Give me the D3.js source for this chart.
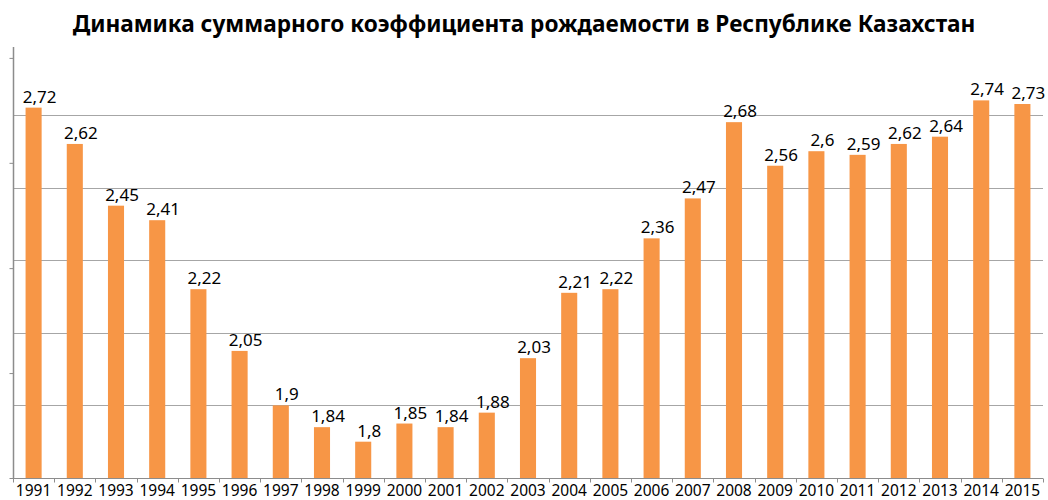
<!DOCTYPE html>
<html>
<head>
<meta charset="utf-8">
<script src="https://cdn.jsdelivr.net/npm/d3@7"></script>
<style>
  body { margin: 0; background: #fff; }
  svg { display: block; }
</style>
</head>
<body>
<svg id="chart" width="1048" height="500"></svg>
<script>
// Data
const years = ["1991", "1992", "1993", "1994", "1995", "1996", "1997", "1998", "1999", "2000",
  "2001", "2002", "2003", "2004", "2005", "2006", "2007", "2008", "2009", "2010",
  "2011", "2012", "2013", "2014", "2015"];
const tfr = [2.72, 2.62, 2.45, 2.41, 2.22, 2.05, 1.9, 1.84, 1.8, 1.85,
  1.84, 1.88, 2.03, 2.21, 2.22, 2.36, 2.47, 2.68, 2.56, 2.6,
  2.59, 2.62, 2.64, 2.74, 2.73];
const gridValues = [1.9, 2.1, 2.3, 2.5, 2.7];
const yTickValues = [1.7, 1.989, 2.278, 2.568, 2.857];
const title = "Динамика суммарного коэффициента рождаемости в Республике Казахстан";

const margin = { top: 47, right: 5, bottom: 22, left: 13 };
const width = 1048, height = 500;

const $svg = d3.select("#chart");

const x = d3.scaleBand()
  .domain(years)
  .range([margin.left, width - margin.right])
  .paddingInner(0.61)
  .paddingOuter(0.305);

const y = d3.scaleLinear()
  .domain([1.7, 2.887])
  .range([height - margin.bottom, margin.top]);

const fmt = v => String(v).replace(".", ",");

// Grid
$svg.append("g")
  .selectAll("line")
  .data(gridValues)
  .join("line")
    .attr("x1", margin.left)
    .attr("x2", width - margin.right)
    .attr("y1", d => Math.round(y(d)) + 0.5)
    .attr("y2", d => Math.round(y(d)) + 0.5)
    .attr("stroke", "#a6a6a6")
    .attr("stroke-width", 1);

// Bars
$svg.append("g")
  .selectAll("rect")
  .data(tfr)
  .join("rect")
    .attr("x", (d, i) => x(years[i]))
    .attr("width", x.bandwidth())
    .attr("y", d => y(d))
    .attr("height", d => y(1.7) - y(d))
    .attr("fill", "#f79646");

// Y axis (no labels)
const yAxis = d3.axisLeft(y)
  .tickValues(yTickValues)
  .tickSize(4)
  .tickFormat("");
const $yAxis = $svg.append("g")
  .attr("transform", `translate(${margin.left + 0.5},0)`)
  .call(yAxis);
$yAxis.select(".domain").remove();
$yAxis.selectAll("line").attr("stroke", "#8c8c8c");
$yAxis.append("line")
  .attr("y1", margin.top)
  .attr("y2", height - margin.bottom)
  .attr("stroke", "#8c8c8c")
  .attr("stroke-width", 1.5);

// X axis
const $xAxis = $svg.append("g")
  .attr("transform", `translate(0,${height - margin.bottom + 0.5})`);
$xAxis.append("line")
  .attr("x1", margin.left)
  .attr("x2", width - margin.right)
  .attr("stroke", "#8c8c8c");
const step = x.step();
$xAxis.selectAll(".tick")
  .data(d3.range(years.length + 1))
  .join("line")
    .attr("class", "tick")
    .attr("x1", i => Math.round(margin.left + i * step) + 0.5)
    .attr("x2", i => Math.round(margin.left + i * step) + 0.5)
    .attr("y1", 0)
    .attr("y2", 4)
    .attr("stroke", "#8c8c8c");
$xAxis.selectAll("text")
  .data(years)
  .join("text")
    .attr("x", d => x(d) + x.bandwidth() / 2)
    .attr("y", 17)
    .attr("text-anchor", "middle")
    .attr("font-family", "Noto Sans")
    .attr("font-size", 15.5)
    .attr("fill", "#000")
    .text(d => d);

// Data labels
$svg.append("g")
  .selectAll("text")
  .data(tfr)
  .join("text")
    .attr("x", (d, i) => x(years[i]) + x.bandwidth() / 2 + 6)
    .attr("y", d => y(d) - 5)
    .attr("text-anchor", "middle")
    .attr("font-family", "Noto Sans")
    .attr("font-size", 17)
    .attr("fill", "#000")
    .text(d => fmt(d));

// Title
const $title = $svg.append("text")
  .attr("x", 524)
  .attr("y", 32)
  .attr("text-anchor", "middle")
  .attr("font-family", "Noto Sans")
  .attr("font-weight", "bold")
  .attr("font-size", 22)
  .attr("fill", "#000")
  .text(title);
const tw = $title.node().getComputedTextLength();
$title.attr("font-size", 22 * 903 / tw);
</script>
</body>
</html>
